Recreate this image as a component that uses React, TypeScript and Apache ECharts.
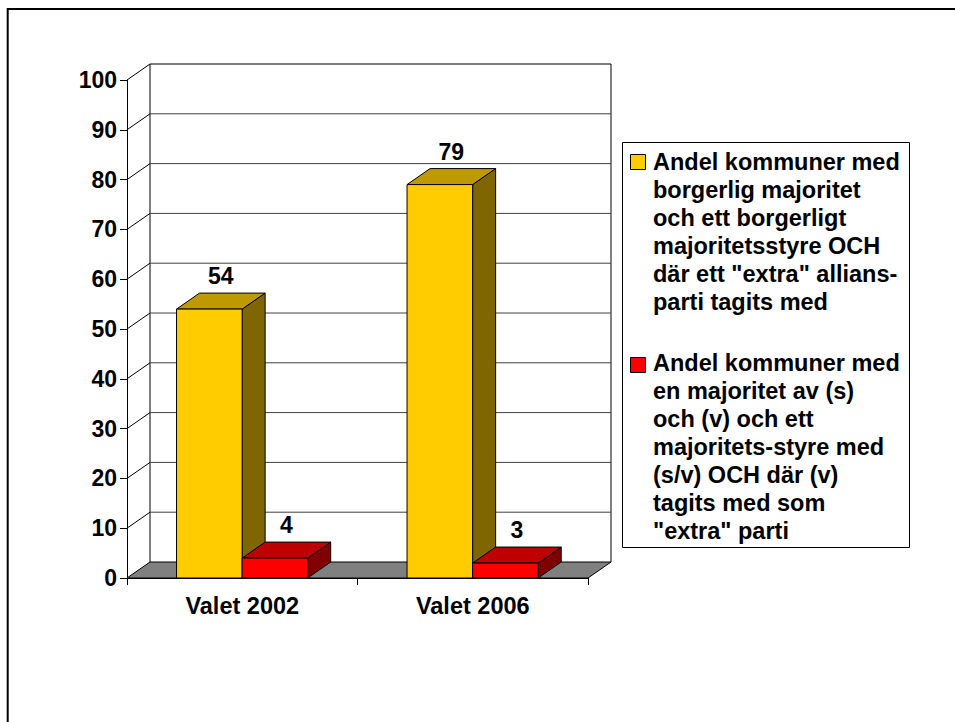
import React, { useEffect, useRef } from "react";
import * as echarts from "echarts";

const categories = ["Valet 2002", "Valet 2006"];
const seriesNames = [
  "Andel kommuner med\nborgerlig majoritet\noch ett borgerligt\nmajoritetsstyre OCH\ndär ett \"extra\" allians-\nparti tagits med",
  "Andel kommuner med\nen majoritet av (s)\noch (v) och ett\nmajoritets-styre med\n(s/v) OCH där (v)\ntagits med som\n\"extra\" parti",
];
const borgerligValues = [54, 79];
const vansterValues = [4, 3];
const yTicks = [0, 10, 20, 30, 40, 50, 60, 70, 80, 90, 100];

const FONT = "'Liberation Sans', Arial, sans-serif";
const DX = 23;
const DY = -16;

const palettes = [
  { front: "#FFCC00", top: "#BF9900", side: "#806600" },
  { front: "#FF0000", top: "#BF0000", side: "#800000" },
];

function makeBarRender(sIdx: number) {
  return (params: any, api: any) => {
    const cat = api.value(0);
    const val = api.value(1);
    const base = api.coord([cat, 0]);
    const topP = api.coord([cat, val]);
    const band = api.size([1, 0])[0];
    const bw = band * 0.2845;
    const x0 = base[0] - band / 2 + band * 0.215 + sIdx * bw;
    const by = base[1];
    const ty = topP[1];
    const p = palettes[sIdx];
    const stroke = { stroke: "#000", lineWidth: 1 };
    return {
      type: "group",
      children: [
        {
          type: "polygon",
          shape: { points: [[x0 + bw, ty], [x0 + bw + DX, ty + DY], [x0 + bw + DX, by + DY], [x0 + bw, by]] },
          style: { fill: p.side, ...stroke },
        },
        {
          type: "polygon",
          shape: { points: [[x0, ty], [x0 + bw, ty], [x0 + bw + DX, ty + DY], [x0 + DX, ty + DY]] },
          style: { fill: p.top, ...stroke },
        },
        {
          type: "rect",
          shape: { x: x0, y: ty, width: bw, height: by - ty },
          style: { fill: p.front, ...stroke },
        },
        {
          type: "text",
          style: {
            text: String(val),
            x: x0 + bw / 2 + DX / 2,
            y: ty + DY - 17,
            align: "center",
            verticalAlign: "middle",
            fill: "#000",
            font: `bold 23px ${FONT}`,
          },
        },
      ],
    };
  };
}

function wallRender(params: any, api: any) {
  const v = api.value(1);
  const cs = params.coordSys;
  const left = cs.x;
  const right = cs.x + cs.width;
  const y = api.coord([0, v])[1];
  const lineColor = "#404040";
  const children: any[] = [];
  if (v === 0) {
    children.push({
      type: "polygon",
      shape: { points: [[left, y], [right, y], [right + DX, y + DY], [left + DX, y + DY]] },
      style: { fill: "#808080", stroke: "#000", lineWidth: 1 },
    });
    const yTop = api.coord([0, 100])[1];
    children.push({
      type: "line",
      shape: { x1: left + DX, y1: y + DY, x2: left + DX, y2: yTop + DY },
      style: { stroke: "#000", lineWidth: 1 },
    });
    children.push({
      type: "line",
      shape: { x1: right + DX, y1: y + DY, x2: right + DX, y2: yTop + DY },
      style: { stroke: "#000", lineWidth: 1 },
    });
  } else {
    children.push({
      type: "line",
      shape: { x1: left, y1: y, x2: left + DX, y2: y + DY },
      style: { stroke: "#000", lineWidth: 1 },
    });
    children.push({
      type: "line",
      shape: { x1: left + DX, y1: y + DY, x2: right + DX, y2: y + DY },
      style: { stroke: v === 100 ? "#000" : lineColor, lineWidth: 1 },
    });
  }
  return { type: "group", children };
}

export default function App() {
  const ref = useRef<HTMLDivElement>(null);
  useEffect(() => {
    if (!ref.current) return;
    const chart = echarts.init(ref.current, undefined, { renderer: "svg" });
    const legendX = 622;
    const legendY = 142;
    const legendFont = `bold 23.5px ${FONT}`;
    const option: any = {
      animation: false,
      backgroundColor: "#fff",
      grid: { left: 127, right: 367, top: 80, bottom: 144 },
      xAxis: {
        type: "category",
        data: categories,
        axisLine: { lineStyle: { color: "#000", width: 1 } },
        axisTick: { show: true, length: 7, lineStyle: { color: "#000" } },
        axisLabel: { color: "#000", fontFamily: FONT, fontWeight: "bold", fontSize: 23.5, margin: 16 },
        splitLine: { show: false },
      },
      yAxis: {
        type: "value",
        min: 0,
        max: 100,
        interval: 10,
        axisLine: { show: true, lineStyle: { color: "#000", width: 1 } },
        axisTick: { show: true, length: 7, lineStyle: { color: "#000" } },
        axisLabel: { color: "#000", fontFamily: FONT, fontWeight: "bold", fontSize: 23, margin: 10 },
        splitLine: { show: false },
      },
      series: [
        {
          type: "custom",
          name: "wall",
          renderItem: wallRender,
          data: yTicks.map((t) => [0, t]),
          silent: true,
          z: 1,
        },
        {
          type: "custom",
          name: seriesNames[0],
          renderItem: makeBarRender(0),
          data: borgerligValues.map((v, i) => [i, v]),
          itemStyle: { color: palettes[0].front },
          z: 3,
        },
        {
          type: "custom",
          name: seriesNames[1],
          renderItem: makeBarRender(1),
          data: vansterValues.map((v, i) => [i, v]),
          itemStyle: { color: palettes[1].front },
          z: 4,
        },
      ],
      graphic: [
        {
          type: "rect",
          shape: { x: 7.7, y: 9, width: 2000, height: 2000 },
          style: { fill: "none", stroke: "#000", lineWidth: 2 },
          silent: true,
        },
        {
          type: "rect",
          shape: { x: legendX + 0.5, y: legendY + 0.5, width: 287, height: 405 },
          style: { fill: "#fff", stroke: "#000", lineWidth: 1 },
          silent: true,
        },
        {
          type: "rect",
          shape: { x: 630.5, y: 154.5, width: 15, height: 15 },
          style: { fill: palettes[0].front, stroke: "#000", lineWidth: 1 },
        },
        {
          type: "text",
          style: {
            text: seriesNames[0],
            x: 653,
            y: 148,
            align: "left",
            verticalAlign: "top",
            lineHeight: 28,
            fill: "#000",
            font: legendFont,
          },
        },
        {
          type: "rect",
          shape: { x: 630.5, y: 357.5, width: 15, height: 15 },
          style: { fill: palettes[1].front, stroke: "#000", lineWidth: 1 },
        },
        {
          type: "text",
          style: {
            text: seriesNames[1],
            x: 653,
            y: 349,
            align: "left",
            verticalAlign: "top",
            lineHeight: 28,
            fill: "#000",
            font: legendFont,
          },
        },
      ],
    };
    chart.setOption(option);
    return () => chart.dispose();
  }, []);
  return (
    <div
      ref={ref}
      style={{ position: "fixed", left: 0, top: 0, width: 955, height: 722, background: "#fff" }}
    />
  );
}
